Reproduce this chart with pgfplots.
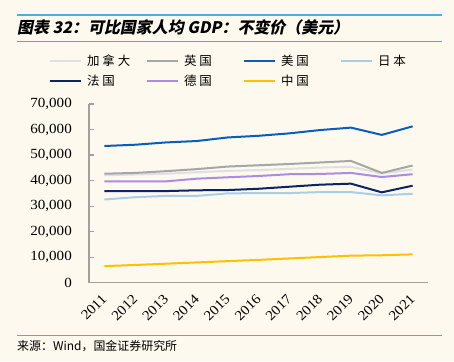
\documentclass[border=0pt]{standalone}
\usepackage{fontspec}
\usepackage{pgfplots}
\pgfplotsset{compat=1.18}
\setmainfont{Liberation Serif}[FakeStretch=1.08]
\newfontfamily\cjk{Noto Sans CJK SC}
\newfontfamily\cjkt{Noto Sans CJK SC}[FakeSlant=0.2,BoldFeatures={FakeSlant=0.2}]
\definecolor{bg}{HTML}{FDF9EE}
\definecolor{rule}{HTML}{4EAEE0}
\definecolor{cCA}{HTML}{E0E0E0}
\definecolor{cUK}{HTML}{A6A6A6}
\definecolor{cUS}{HTML}{0B5DBB}
\definecolor{cJP}{HTML}{A8CFE6}
\definecolor{cFR}{HTML}{0A2466}
\definecolor{cDE}{HTML}{A98DE3}
\definecolor{cCN}{HTML}{FFC000}
\definecolor{axgray}{HTML}{A0A0A0}
\newcommand{\ls}{\hspace{3bp}}
\begin{document}
\begin{tikzpicture}[x=1bp,y=1bp]
\fill[bg] (0,0) rectangle (454,-361);
\draw[rule, line width=1.3bp] (17,-15) -- (442,-15);
\draw[rule, line width=1.3bp] (17,-41.5) -- (442,-41.5);
\draw[rule, line width=1.3bp] (17,-335.7) -- (442,-335.7);
\node[anchor=west, inner sep=0pt] at (17,-27.5) {\cjkt\bfseries\fontsize{16}{16}\selectfont 图表 32：可比国家人均 GDP：不变价（美元）};
\node[anchor=west, inner sep=0pt] at (17,-346) {\cjk\fontsize{12}{12}\selectfont 来源：Wind，国金证券研究所};
\begin{axis}[
  at={(89bp,-282.7bp)}, anchor=south west,
  scale only axis, width=339bp, height=178.7bp,
  xmin=2010.5, xmax=2021.5, ymin=0, ymax=70000,
  axis x line*=bottom, axis y line*=left,
  axis line style={axgray, line width=1.2bp, -},
  /pgf/number format/assume math mode=true,
  tick label style={font=\fontsize{14}{14}\selectfont},
  xtick={2011,...,2021},
  xticklabels={2011,2012,2013,2014,2015,2016,2017,2018,2019,2020,2021},
  x tick style={draw=none},
  extra x ticks={2011.5,2012.5,...,2021.5},
  extra x tick labels={},
  extra x tick style={tick style={axgray, line width=1.2bp}, major tick length=4bp},
  xticklabel style={xshift=0bp, yshift=-14bp, rotate=45, anchor=east, inner sep=0pt},
  ytick={0,10000,...,70000},
  scaled y ticks=false,
  yticklabel style={/pgf/number format/1000 sep={,}, anchor=east, inner sep=0pt, xshift=-17bp},
  y tick style={axgray, line width=1.2bp},
  tick align=inside, major tick length=5bp,
  legend columns=4,
  legend style={at={(0,1)}, anchor=north west, xshift=-40bp, yshift=49.5bp,
    draw=none, fill=none, inner sep=0pt, outer sep=0pt, row sep=8bp, column sep=0pt,
    nodes={inner sep=0pt, anchor=west}, font=\cjk\fontsize{12.5}{12.5}\selectfont},
  legend image code/.code={\draw[#1, line width=2bp] (0bp,0bp) -- (31bp,0bp);},
  every axis plot/.append style={line width=2bp},
]
\addplot[cCA] coordinates {(2011,42100)(2012,42400)(2013,42700)(2014,43300)(2015,43800)(2016,44100)(2017,44600)(2018,45100)(2019,45400)(2020,42800)(2021,44300)};
\addlegendentry{\hspace{5bp}\makebox[59bp][l]{加\ls 拿\ls 大}}
\addplot[cUK] coordinates {(2011,42700)(2012,43000)(2013,43700)(2014,44500)(2015,45500)(2016,46000)(2017,46500)(2018,47100)(2019,47700)(2020,43000)(2021,45900)};
\addlegendentry{\hspace{5bp}\makebox[59bp][l]{英\ls 国}}
\addplot[cUS] coordinates {(2011,53550)(2012,54050)(2013,54950)(2014,55500)(2015,56900)(2016,57550)(2017,58500)(2018,59800)(2019,60750)(2020,57900)(2021,61250)};
\addlegendentry{\hspace{5bp}\makebox[59bp][l]{美\ls 国}}
\addplot[cJP] coordinates {(2011,32600)(2012,33500)(2013,34000)(2014,34000)(2015,35000)(2016,35100)(2017,35100)(2018,35500)(2019,35500)(2020,34200)(2021,34850)};
\addlegendentry{\hspace{5bp}\makebox[59bp][l]{日\ls 本}}
\addplot[cFR] coordinates {(2011,35900)(2012,35900)(2013,35900)(2014,36200)(2015,36300)(2016,36800)(2017,37600)(2018,38400)(2019,38800)(2020,35400)(2021,38000)};
\addlegendentry{\hspace{5bp}\makebox[59bp][l]{法\ls 国}}
\addplot[cDE] coordinates {(2011,39700)(2012,39700)(2013,39700)(2014,40750)(2015,41300)(2016,41800)(2017,42500)(2018,42600)(2019,43000)(2020,41400)(2021,42500)};
\addlegendentry{\hspace{5bp}\makebox[59bp][l]{德\ls 国}}
\addplot[cCN] coordinates {(2011,6500)(2012,6950)(2013,7450)(2014,7950)(2015,8450)(2016,8950)(2017,9500)(2018,10050)(2019,10600)(2020,10750)(2021,11100)};
\addlegendentry{\hspace{5bp}\makebox[59bp][l]{中\ls 国}}
\end{axis}
\end{tikzpicture}
\end{document}
